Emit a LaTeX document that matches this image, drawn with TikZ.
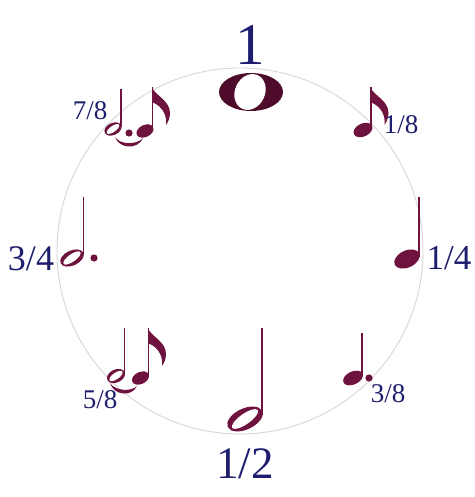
\documentclass[tikz,border=0pt]{standalone}
\usepackage{fontspec}
\setmainfont{Liberation Serif}
\definecolor{txt}{RGB}{30,30,110}
\definecolor{notec}{RGB}{110,18,62}
\definecolor{wholec}{RGB}{78,12,42}
\definecolor{ringc}{RGB}{215,215,215}
\newcommand\qhead[4]{\fill[notec,rotate around={25:(#1,#2)}] (#1,#2) ellipse [x radius=#3, y radius=#4];}
\newcommand\hhead[4]{\fill[notec,rotate around={25:(#1,#2)}] (#1,#2) ellipse [x radius=#3, y radius=#4];
  \fill[white,rotate around={35:(#1,#2)}] (#1,#2) ellipse [x radius={0.82*#3}, y radius={0.5*#4}];}
\newcommand\stem[3]{\draw[notec,line width=1.9pt] (#1,#2) -- (#1,#3);}
\newcommand\eflag[2]{\fill[notec,shift={(#1,#2)}] (0,0) .. controls (2,8) and (18,13) .. (18,26) .. controls (18,31) and (16,35) .. (14,38) .. controls (15,30) and (12,20) .. (0,15) -- cycle;}
\newcommand\ndot[2]{\fill[notec] (#1,#2) circle [radius=3.6];}
\begin{document}
\begin{tikzpicture}[x=1pt,y=-1pt,
  lab/.style={text=txt, inner sep=0pt, anchor=base}]
\useasboundingbox (0,0) rectangle (474,497);
\fill[white] (0,0) rectangle (474,497);
% ring
\draw[ringc, line width=0.9pt] (240,251) circle [radius=183];
% whole note
\fill[wholec] (251,92) ellipse [x radius=32, y radius=19];
\fill[white,rotate around={65:(250,92)}] (250,92) ellipse [x radius=18.5, y radius=15];
% 1/8
\qhead{363}{130}{10}{6.5}
\stem{371}{87}{129}
\eflag{370.5}{87}
% 1/4
\qhead{407}{259}{13.5}{8.5}
\stem{419}{197}{257}
% 3/8
\qhead{353}{378}{10.5}{6.5}
\stem{362}{333}{376}
\ndot{369}{378}
% 1/2
\hhead{245}{419}{19}{10.5}
\stem{262}{328}{415}
% 5/8
\hhead{116}{376}{9.5}{6.5}
\stem{124.5}{328}{374}
\qhead{140.5}{378}{9}{6}
\stem{148.5}{328}{376}
\eflag{148}{328}
\fill[notec] (110,383) .. controls (114,396) and (132,397) .. (137,386) .. controls (131,392) and (115,391) .. (110,383) -- cycle;
% 3/4
\hhead{72}{258}{12.5}{7.5}
\stem{83.5}{197}{255}
\ndot{94}{258}
% 7/8
\hhead{113}{129}{9}{6}
\stem{121}{89}{127}
\ndot{129}{133}
\qhead{145}{131}{9}{6}
\stem{152.5}{87}{129}
\eflag{152}{87}
\fill[notec] (115,137) .. controls (119,149) and (138,150) .. (143,138) .. controls (137,145) and (120,145) .. (115,137) -- cycle;
% labels
\node[lab, font=\fontsize{59}{59}\selectfont] (one) at (250,65) {1};
\node[lab, font=\fontsize{45}{45}\selectfont] (half) at (245,478) {1/2};
\node[lab, font=\fontsize{36}{36}\selectfont] (threefour) at (31,270) {3/4};
\node[lab, font=\fontsize{35}{35}\selectfont] (onefour) at (449,269) {1/4};
\node[lab, font=\fontsize{27}{27}\selectfont] (oneeight) at (401,134) {1/8};
\node[lab, font=\fontsize{27}{27}\selectfont] (seveneight) at (90,120) {7/8};
\node[lab, font=\fontsize{27}{27}\selectfont] (fiveeight) at (100,408) {5/8};
\node[lab, font=\fontsize{27}{27}\selectfont] (threeeight) at (388,402) {3/8};
\end{tikzpicture}
\end{document}
